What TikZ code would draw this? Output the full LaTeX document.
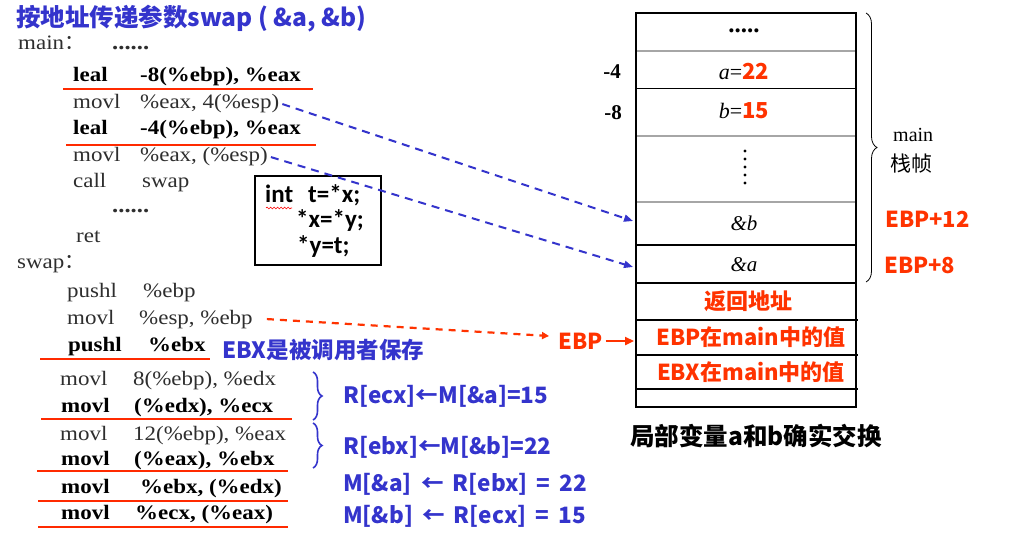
\documentclass[tikz,border=0pt]{standalone}
\usepackage{fontspec}
\setmainfont{Liberation Serif}
\newfontfamily\cjk{Noto Sans CJK SC}
\newfontfamily\codefont[FakeStretch=1.12]{Liberation Serif}
\newfontfamily\boxfont{Carlito}
\usetikzlibrary{arrows.meta,decorations.pathreplacing,decorations.pathmorphing}
\definecolor{tblue}{HTML}{3434CC}
\definecolor{tred}{HTML}{FF3300}
\definecolor{ulred}{HTML}{FF2A00}
\definecolor{codegray}{HTML}{2E2E2E}
\tikzset{
  code/.style={anchor=base west, inner sep=0pt, text=codegray, font=\codefont\fontsize{20.5}{20.5}\selectfont},
  codeb/.style={anchor=base west, inner sep=0pt, text=black, font=\codefont\bfseries\fontsize{20.5}{20.5}\selectfont},
  uline/.style={ulred, line width=2.6pt},
  note/.style={anchor=base west, inner sep=0pt, text=tblue, font=\cjk\bfseries\fontsize{22.5}{22.5}\selectfont},
  rednote/.style={inner sep=0pt, text=tred, font=\cjk\bfseries\fontsize{22}{22}\selectfont},
  boxtext/.style={anchor=base west, inner sep=0pt, text=black, font=\boxfont\bfseries\fontsize{25}{25}\selectfont},
  stackline/.style={black, line width=1.3pt},
  stackgray/.style={gray!70, line width=2.2pt},
  bluearrow/.style={tblue, line width=2pt, dash pattern=on 8pt off 6pt, -{Triangle[length=9pt,width=7pt]}},
  redarrow/.style={tred, line width=2.2pt, dash pattern=on 7pt off 6pt, -{Triangle[length=7pt,width=7pt]}},
  ebparrow/.style={tred, line width=2.6pt, -{Triangle[length=9pt,width=8pt]}},
  bluebrace/.style={tblue, line width=1.6pt, decorate, decoration={brace, amplitude=9pt}},
  cell/.style={inner sep=0pt, font=\fontsize{21}{21}\selectfont}
}
\begin{document}
\begin{tikzpicture}[x=1pt,y=-1pt]
\useasboundingbox (0,0) rectangle (1024,545);
\fill[white] (0,0) rectangle (1024,545);

% title
\node[anchor=west, inner sep=0pt, text=tblue, font=\cjk\bfseries\fontsize{24.5}{24.5}\selectfont] (title) at (16,19) {按地址传递参数swap ( \&a, \&b)};

% main code
\node[code] (mainlbl) at (18,50) {main{\cjk ：}};
\node[code, font=\codefont\bfseries\fontsize{22}{22}\selectfont] (dots1) at (112,50) {......};
\node[codeb] (l1) at (73,82) {leal};
\node[codeb] (l1op) at (140,82) {-8(\%ebp), \%eax};
\node[code] (m1) at (73,109) {movl};
\node[code] (m1op) at (140,109) {\%eax, 4(\%esp)};
\node[codeb] (l2) at (73,135) {leal};
\node[codeb] (l2op) at (140,135) {-4(\%ebp), \%eax};
\node[code] (m2) at (73,162) {movl};
\node[code] (m2op) at (140,162) {\%eax, (\%esp)};
\node[code] (call) at (73,188) {call};
\node[code] (callop) at (142,188) {swap};
\node[code, font=\codefont\bfseries\fontsize{22}{22}\selectfont] (dots2) at (112,213) {......};
\node[code] (ret) at (76,242) {ret};
\draw[uline] (63,89) -- (313,89);
\draw[uline] (66,145) -- (316,145);

% swap code
\node[code] (swaplbl) at (17,268) {swap{\cjk ：}};
\node[code] (s1) at (67,297) {pushl};
\node[code] (s1op) at (143,297) {\%ebp};
\node[code] (s2) at (67,324) {movl};
\node[code] (s2op) at (139,324) {\%esp, \%ebp};
\node[codeb] (s3) at (68,351) {pushl};
\node[codeb] (s3op) at (148,351) {\%ebx};
\node[code] (s4) at (60,385) {movl};
\node[code] (s4op) at (133,385) {8(\%ebp), \%edx};
\node[codeb] (s5) at (61,412) {movl};
\node[codeb] (s5op) at (134,412) {(\%edx), \%ecx};
\node[code] (s6) at (60,440) {movl};
\node[code] (s6op) at (133,440) {12(\%ebp), \%eax};
\node[codeb] (s7) at (61,465) {movl};
\node[codeb] (s7op) at (134,465) {(\%eax), \%ebx};
\node[codeb] (s8) at (61,493) {movl};
\node[codeb] (s8op) at (140,493) {\%ebx, (\%edx)};
\node[codeb] (s9) at (61,519) {movl};
\node[codeb] (s9op) at (135,519) {\%ecx, (\%eax)};
\draw[uline] (40,359) -- (210,359);
\draw[uline] (41,419) -- (292,419);
\draw[uline] (37,471) -- (288,471);
\draw[uline] (38,501) -- (288,501);
\draw[uline] (38,527) -- (288,527);

% blue notes
\node[note] (ebxnote) at (222,358) {EBX是被调用者保存};
\draw[bluebrace] (313,372) -- (313,420);
\draw[bluebrace] (313,423) -- (313,468);
\node[note] (n1) at (343,403) {R[ecx]←M[\&a]=15};
\node[note] (n2) at (343,454) {R[ebx]←M[\&b]=22};
\node[note] (n3) at (343,491) {M[\&a]\hspace{4pt} ←\hspace{4pt} R[ebx]\hspace{4pt} =\hspace{4pt} 22};
\node[note] (n4) at (343,523) {M[\&b]\hspace{4pt} ←\hspace{4pt} R[ecx]\hspace{4pt} =\hspace{4pt} 15};

% C box
\draw[black, line width=1.3pt] (255,176) rectangle (381,265);
\node[boxtext] (c1a) at (265,203) {int};
\node[boxtext] (c1b) at (308,203) {t=*x;};
\node[boxtext] (c2) at (296,228) {*x=*y;};
\node[boxtext] (c3) at (297,253) {*y=t;};
\draw[red, line width=0.6pt, decorate, decoration={snake, amplitude=0.9pt, segment length=3.5pt}] (266,208) -- (292,208);

% stack
\draw[stackgray] (636,51) -- (856,51);
\draw[stackgray] (636,136) -- (856,136);
\draw[stackgray] (636,202) -- (856,202);
\draw[stackline] (636,13) rectangle (856,407);
\draw[stackline, line width=1pt] (636,89) -- (856,89);
\draw[stackline, line width=1.8pt] (636,245) -- (856,245);
\draw[stackline] (636,283) -- (856,283);
\draw[stackline, line width=1.8pt] (636,320) -- (858,320);
\draw[stackline, line width=1.8pt] (636,355) -- (858,355);
\draw[stackline, line width=1.8pt] (636,389) -- (858,389);

\node[cell, font=\bfseries\fontsize{25}{25}\selectfont] (r0) at (744,31) {.....};
\node[cell, font=\fontsize{22}{22}\selectfont] (ra) at (744,71) {\textit{a}=\textcolor{tred}{\cjk\bfseries 22}};
\node[cell, font=\fontsize{22}{22}\selectfont] (rb) at (744,111) {\textit{b}=\textcolor{tred}{\cjk\bfseries 15}};
\foreach \yy in {151,159,167,175,183} \fill (745,\yy) circle (1.7pt);
\node[cell] (rpb) at (744,223) {\textit{\&b}};
\node[cell] (rpa) at (744,265) {\textit{\&a}};
\node[rednote] (rret) at (748,301) {返回地址};
\node[rednote] (rebp) at (751,337) {EBP在main中的值};
\node[rednote] (rebx) at (751,372) {EBX在main中的值};

\node[inner sep=0pt, font=\bfseries\fontsize{21}{21}\selectfont] (off4) at (612,72) {-4};
\node[inner sep=0pt, font=\bfseries\fontsize{21}{21}\selectfont] (off8) at (613,113) {-8};

\draw[black, line width=0.8pt, decorate, decoration={brace, amplitude=11pt}] (866,13) -- (866,282);
\node[anchor=base west, inner sep=0pt, font=\fontsize{20}{20}\selectfont] (mainfr) at (893,142) {main};
\node[anchor=west, inner sep=0pt, font=\cjk\fontsize{21}{21}\selectfont] (zhen) at (890,164) {栈帧};

\node[rednote, anchor=west] (ebp12) at (885,219) {EBP+12};
\node[rednote, anchor=west] (ebp8) at (884,265) {EBP+8};

\node[rednote, anchor=west] (ebplbl) at (558,341) {EBP};
\coordinate (ebptip) at (634,341);
\draw[ebparrow] (ebplbl.east) ++(3,0) -- (ebptip);

\node[inner sep=0pt, font=\cjk\bfseries\fontsize{24.5}{24.5}\selectfont] (caption) at (756,436) {局部变量a和b确实交换};

% connectors
\coordinate (pbin) at (633,221);
\coordinate (pain) at (633,267);
\coordinate (ebpin) at (549,336);
\draw[bluearrow] ([xshift=3pt]m1op.east) -- (pbin);
\draw[bluearrow] ([xshift=3pt]m2op.east) -- (pain);
\draw[redarrow] ([xshift=14pt]s2op.east) -- (ebpin);
\end{tikzpicture}
\end{document}
